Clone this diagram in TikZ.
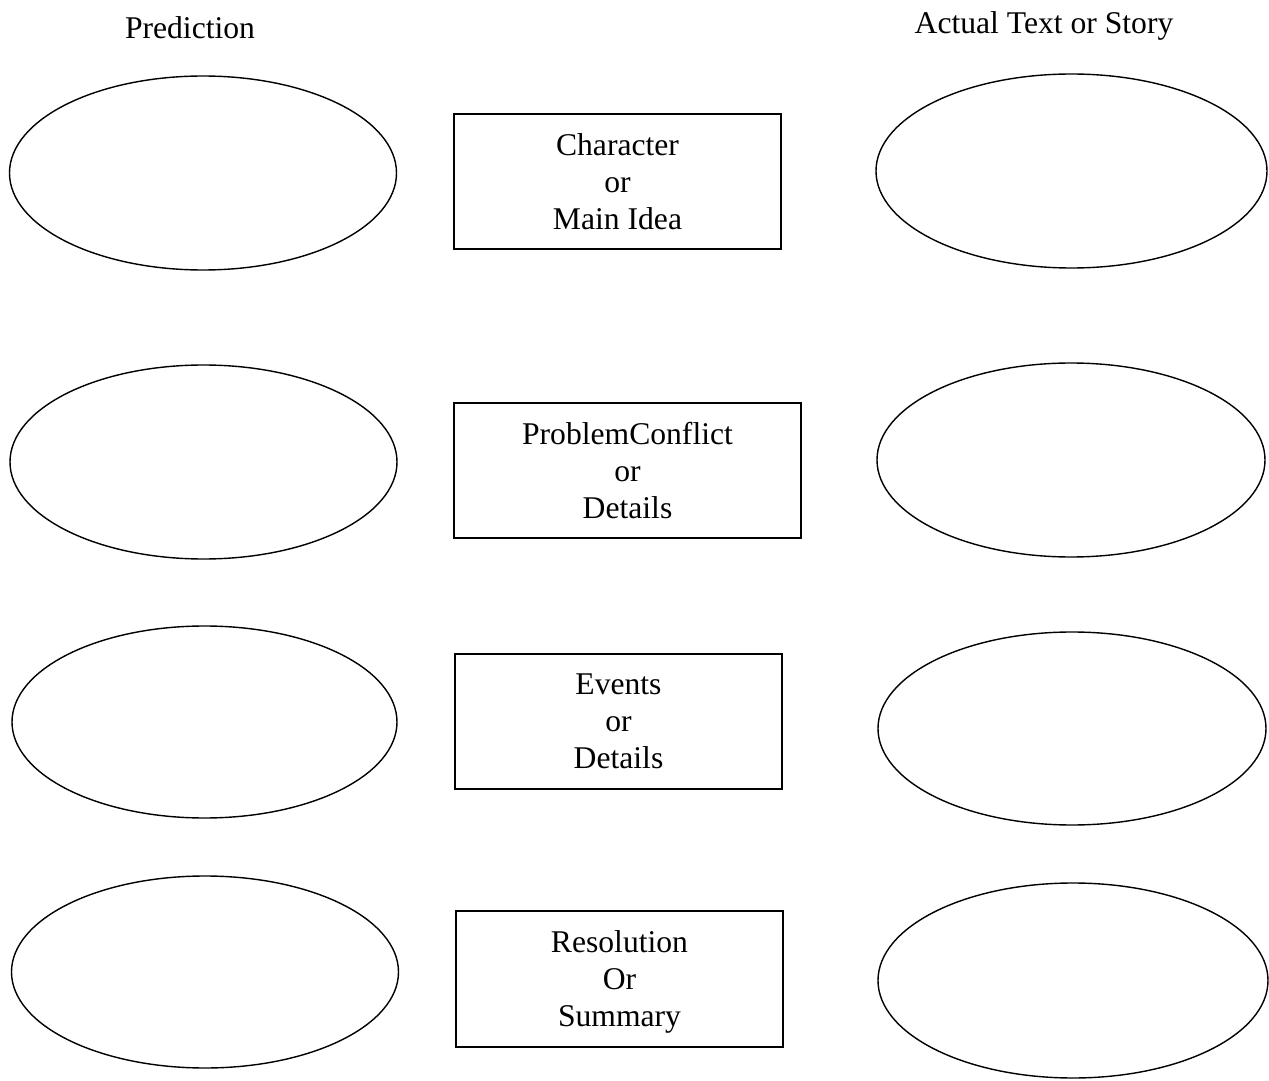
\documentclass[tikz,border=0pt]{standalone}
\usepackage{fontspec}
\setmainfont{Liberation Serif}
\usetikzlibrary{shapes.geometric}
\begin{document}
\begin{tikzpicture}[x=0.02cm,y=-0.02cm,
  oval/.style={draw,line width=0.8pt,ellipse,inner sep=0pt,minimum width=387*0.02cm,minimum height=194*0.02cm},
  label box/.style={draw,line width=0.8pt,rectangle,inner sep=0pt,minimum height=135*0.02cm,align=center,
    font=\fontsize{18}{21}\selectfont},
  heading/.style={font=\fontsize{18}{21}\selectfont}]
\useasboundingbox (0,0) rectangle (1269,1081);
% column headings
\node[heading] (hl) at (190,28) {Prediction};
\node[heading] (hr) at (1044,26) {Actual Text or Story};
% prediction ovals
\node[oval] (p1) at (203,173) {};
\node[oval] (p2) at (203.5,462) {};
\node[oval,minimum width=385*0.02cm,minimum height=192*0.02cm] (p3) at (204.5,722) {};
\node[oval,minimum height=192*0.02cm] (p4) at (205,972) {};
% actual text ovals
\node[oval,minimum width=391*0.02cm] (a1) at (1071.5,171) {};
\node[oval,minimum width=388*0.02cm] (a2) at (1071,460) {};
\node[oval,minimum width=388*0.02cm,minimum height=193*0.02cm] (a3) at (1072,728.5) {};
\node[oval,minimum width=390*0.02cm,minimum height=195*0.02cm] (a4) at (1073,980.5) {};
% story element boxes
\node[label box,minimum width=327*0.02cm] (b1) at (617.5,181.5) {Character\\or\\Main Idea};
\node[label box,minimum width=347*0.02cm] (b2) at (627.5,470.5) {ProblemConflict\\or\\Details};
\node[label box,minimum width=327*0.02cm] (b3) at (618.5,721.5) {Events\\or\\Details};
\node[label box,minimum width=327*0.02cm,minimum height=136*0.02cm] (b4) at (619.5,979) {};
\node[align=center,inner sep=0pt,font=\fontsize{18}{21}\selectfont] (t4) at (619.5,982) {Resolution\\Or\\Summary};
\end{tikzpicture}
\end{document}
